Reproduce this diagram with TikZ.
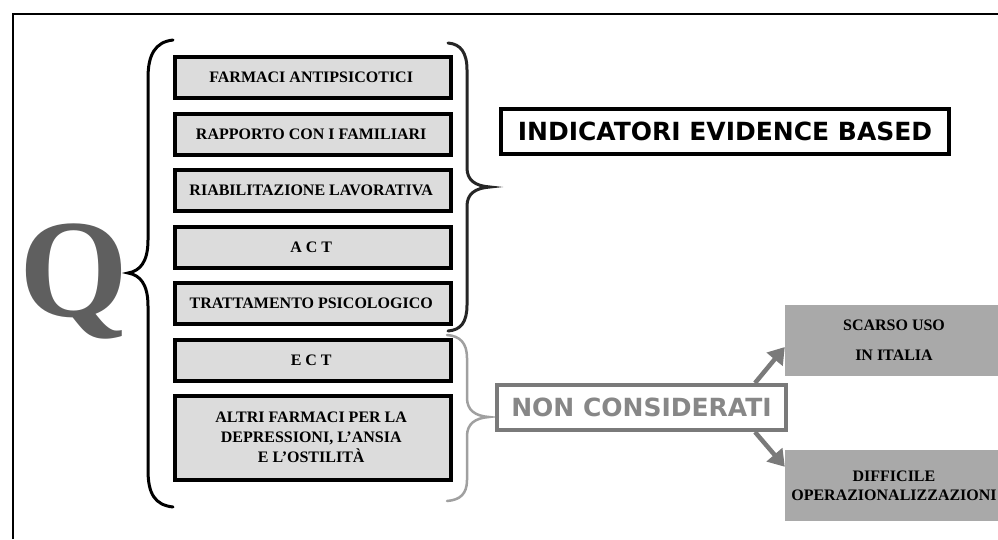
\documentclass[tikz,border=0pt]{standalone}
\usepackage{fontspec}
\setmainfont{Liberation Serif}
\newfontfamily\headfont{DejaVu Sans}
\usetikzlibrary{matrix,positioning,arrows.meta}

\definecolor{boxgray}{HTML}{DCDCDC}
\definecolor{qgray}{HTML}{5F5F5F}
\definecolor{midgray}{HTML}{7A7A7A}
\definecolor{bracegray}{HTML}{A0A0A0}
\definecolor{sidegray}{HTML}{A9A9A9}

\tikzset{
  itembox/.style={draw, fill=boxgray, line width=4pt, minimum width=276pt,
    minimum height=41pt, inner sep=2pt, align=center,
    font=\fontsize{16}{20}\selectfont\bfseries},
  headbox/.style={draw, line width=4pt, minimum width=448pt, minimum height=45pt,
    inner sep=0pt, font=\headfont\fontsize{25}{30}\selectfont\bfseries},
  sidebox/.style={fill=sidegray, minimum width=218pt, minimum height=71pt,
    inner sep=0pt, align=center, font=\fontsize{16}{19}\selectfont\bfseries},
  brace/.style={line width=3pt, line cap=round},
  garrow/.style={draw=midgray, line width=4.5pt, -{Triangle[width=20pt,length=16pt]}}
}

\begin{document}
\begin{tikzpicture}[x=1pt, y=-1pt]
  \useasboundingbox (0,0) rectangle (998,539);
  \clip (0,0) rectangle (998,539);
  \fill[white] (0,0) rectangle (998,539);
  \draw[line width=2pt] (13,539) -- (13,14) -- (998,14);

  \node[anchor=base, text=qgray, font=\fontsize{140}{140}\selectfont\bfseries] (q) at (74,316) {Q};

  \matrix (m) [matrix of nodes, nodes={itembox}, row sep=11.5pt,
               anchor=north west, inner sep=0pt] at (173,55) {
    FARMACI ANTIPSICOTICI \\
    RAPPORTO CON I FAMILIARI \\
    RIABILITAZIONE LAVORATIVA \\
    A C T \\
    TRATTAMENTO PSICOLOGICO \\
    E C T \\
    |[minimum height=84pt]| \begin{tabular}{@{}c@{}}ALTRI FARMACI PER LA\\DEPRESSIONI, L'ANSIA\\E L'OSTILITÀ\end{tabular} \\
  };

  \draw[brace] (173,40) .. controls (155,42) and (148,55) .. (148,78) -- (148,240)
    .. controls (148,262) and (140,271) .. (128,273)
    .. controls (140,275) and (148,284) .. (148,306) -- (148,470)
    .. controls (148,494) and (155,505) .. (173,507);
  \draw[brace, draw=black!85] (448,43) .. controls (461,44) and (467,53) .. (467,70) -- (467,168)
    .. controls (467,180) and (475,186) .. (490,187)
    .. controls (475,188) and (467,194) .. (467,206) -- (467,305)
    .. controls (467,322) and (461,330) .. (448,331);
  \draw[brace, draw=bracegray, line width=2.5pt] (447,335) .. controls (460,336) and (467,343) .. (467,358) -- (467,398)
    .. controls (467,410) and (475,416) .. (489,417)
    .. controls (475,418) and (467,424) .. (467,436) -- (467,480)
    .. controls (467,494) and (460,500) .. (447,501);

  \node[headbox] (ebm) at (725,131.5) {INDICATORI EVIDENCE BASED};
  \node[headbox, draw=midgray, text=midgray!90, minimum width=289pt] (nc) at (641.5,407.5) {NON CONSIDERATI};

  \node[sidebox] (scarso) at (894,340.5) {SCARSO USO\\[11pt]IN ITALIA};
  \node[sidebox] (diff) at (894,485.5) {DIFFICILE\\OPERAZIONALIZZAZIONI};

  \draw[garrow] ([xshift=-33pt]nc.north east) -- ([yshift=-6.5pt]scarso.west);
  \draw[garrow] ([xshift=-33pt]nc.south east) -- ([yshift=-17pt]diff.north west);
\end{tikzpicture}
\end{document}
